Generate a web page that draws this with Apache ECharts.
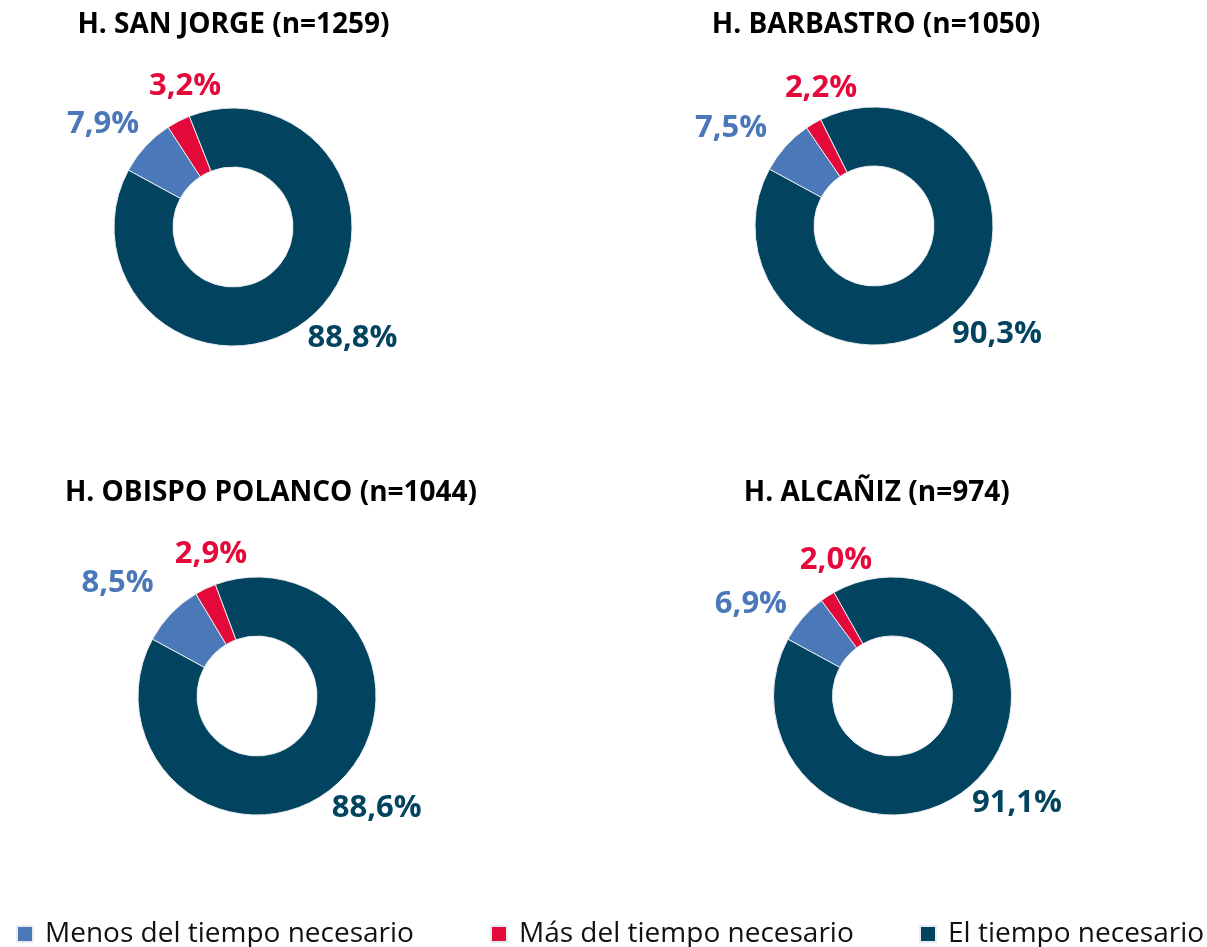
<!DOCTYPE html>
<html>
<head>
<meta charset="utf-8">
<script src="https://cdn.jsdelivr.net/npm/echarts@6/dist/echarts.min.js"></script>
<style>
html,body{margin:0;padding:0;background:#fff;}
#chart{width:1207px;height:947px;}
</style>
</head>
<body>
<div id="chart"></div>
<script>
// ---- data ----
const hospitals = ['H. SAN JORGE (n=1259)', 'H. BARBASTRO (n=1050)', 'H. OBISPO POLANCO (n=1044)', 'H. ALCAÑIZ (n=974)'];
const categories = ['Menos del tiempo necesario', 'Más del tiempo necesario', 'El tiempo necesario'];
const menos = [7.9, 7.5, 8.5, 6.9];
const mas = [3.2, 2.2, 2.9, 2.0];
const elTiempo = [88.8, 90.3, 88.6, 91.1];

// ---- styles / layout ----
const colors = ['#4A78B8', '#E3093A', '#02445F'];
const centers = [[233, 227], [874, 226], [257, 696], [892.5, 696]];
const titlePos = [[233.5, 11], [876, 11], [271, 479], [876.7, 479]];
// label placement per hospital, per category: [length, length2]
const labelLines = [
  [[32, 19], [39.7, -24.8], [29.7, 21]],
  [[27.5, 34], [41.2, -28.4], [31.3, 18.5]],
  [[43.5, 22.2], [38, -22], [29.3, 22.5]],
  [[21.5, 35.4], [43.3, -32], [33.5, 15.8]]
];
const legendLeft = [16, 490, 919];
const FONT = '"Open Sans", sans-serif';

const chart = echarts.init(document.getElementById('chart'), null, {renderer: 'canvas'});

const values = [menos, mas, elTiempo];
const fmt = v => v.toFixed(1).replace('.', ',') + '%';

const series = hospitals.map((h, i) => ({
  type: 'pie',
  name: h,
  center: centers[i],
  radius: [60, 119],
  startAngle: 151.5,
  clockwise: true,
  avoidLabelOverlap: false,
  emphasis: {disabled: true},
  itemStyle: {borderColor: '#e8ecf0', borderWidth: 1},
  label: {
    show: true,
    position: 'outside',
    distanceToLabelLine: 0,
    fontFamily: FONT,
    fontWeight: 'bold',
    fontSize: 31,
    formatter: p => fmt(p.value)
  },
  labelLine: {show: false},
  labelLayout: () => ({align: 'center'}),
  data: categories.map((c, k) => ({
    name: c,
    value: values[k][i],
    itemStyle: {color: colors[k]},
    label: {color: colors[k]},
    labelLine: {show: false, length: labelLines[i][k][0], length2: labelLines[i][k][1]}
  }))
}));

const option = {
  animation: false,
  backgroundColor: '#fff',
  title: hospitals.map((h, i) => ({
    text: h,
    left: titlePos[i][0],
    top: titlePos[i][1],
    textAlign: 'center',
    padding: 0,
    textStyle: {fontFamily: FONT, fontWeight: 'bold', fontSize: 28, color: '#000'}
  })),
  legend: categories.map((c, k) => ({
    data: [c],
    left: legendLeft[k],
    top: 920,
    padding: 0,
    icon: 'rect',
    itemWidth: 16,
    itemHeight: 16,
    selectedMode: false,
    textStyle: {fontFamily: FONT, fontSize: 28, color: '#111', padding: [0, 0, 0, 7]}
  })),
  series: series
};
chart.setOption(option);
</script>
</body>
</html>
